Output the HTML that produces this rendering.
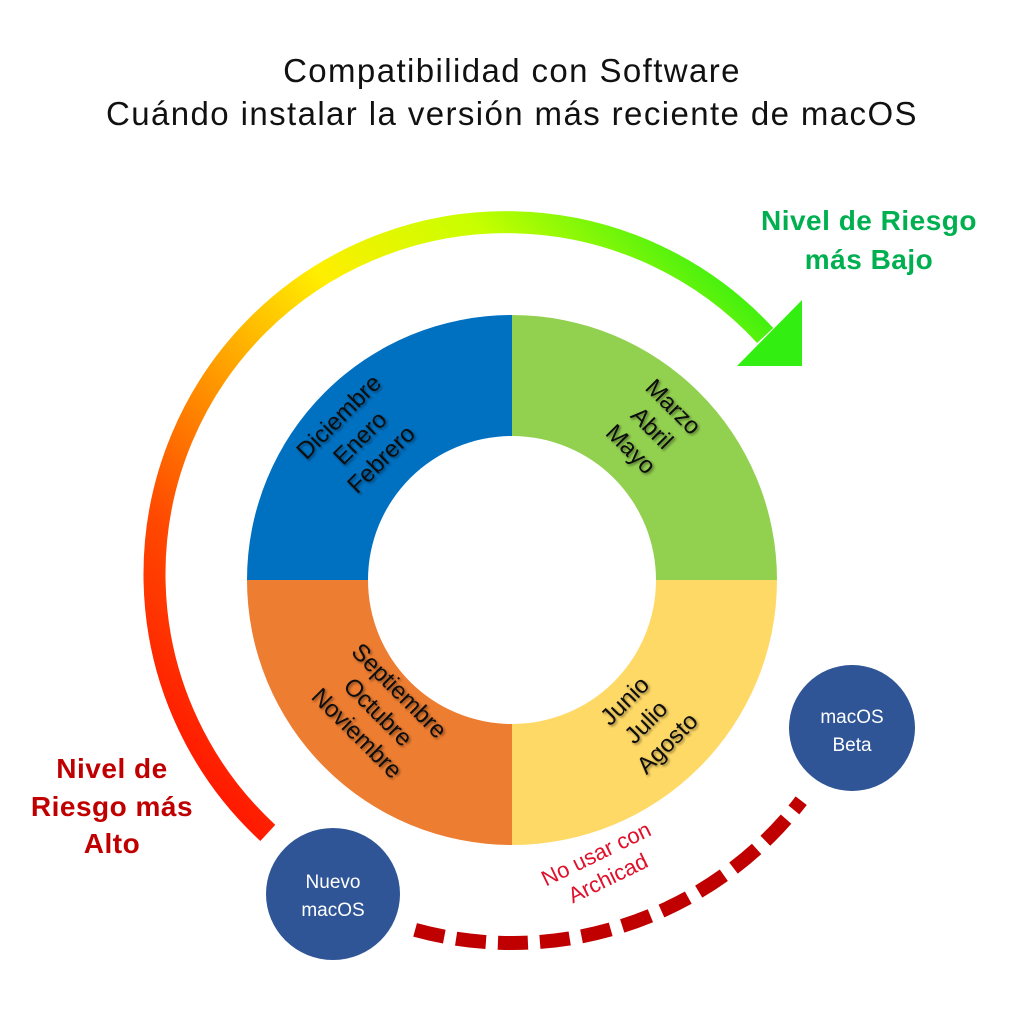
<!DOCTYPE html>
<html><head><meta charset="utf-8"><style>
html,body{margin:0;padding:0;background:#fff;}
svg{display:block;}
text{font-family:"Liberation Sans",sans-serif;}
</style></head><body>
<svg width="1024" height="1024" viewBox="0 0 1024 1024" xmlns="http://www.w3.org/2000/svg">
<defs>
<linearGradient id="g" gradientUnits="userSpaceOnUse" x1="260" y1="840" x2="800" y2="330">
<stop offset="0" stop-color="#ff1a00"/>
<stop offset="0.2" stop-color="#ff4a00"/>
<stop offset="0.4" stop-color="#ffa000"/>
<stop offset="0.58" stop-color="#ffee00"/>
<stop offset="0.78" stop-color="#c8ff00"/>
<stop offset="1" stop-color="#33ee11"/>
</linearGradient>
<filter id="sh" x="-20%" y="-20%" width="140%" height="140%"><feDropShadow dx="1.5" dy="1.5" stdDeviation="1.2" flood-color="#000" flood-opacity="0.45"/></filter>
</defs>
<text x="512" y="82" text-anchor="middle" font-size="33" letter-spacing="1.4" fill="#111">Compatibilidad con Software</text>
<text x="512" y="125" text-anchor="middle" font-size="33" letter-spacing="1.4" fill="#111">Cuándo instalar la versión más reciente de macOS</text>

<path d="M267.8 832.9 A352 352 0 1 1 765.2 335.5" fill="none" stroke="url(#g)" stroke-width="22"/>
<polygon points="737,366 802,300 802,366" fill="#33ee11"/>

<path d="M512 580 L247 580 A265 265 0 0 1 512 315 Z" fill="#0070c0"/>
<path d="M512 580 L512 315 A265 265 0 0 1 777 580 Z" fill="#92d050"/>
<path d="M512 580 L777 580 A265 265 0 0 1 512 845 Z" fill="#ffd966"/>
<path d="M512 580 L512 845 A265 265 0 0 1 247 580 Z" fill="#ed7d31"/>
<circle cx="512" cy="580" r="144" fill="#fff"/>

<g font-size="24" fill="#111" text-anchor="middle" filter="url(#sh)">
<g transform="translate(360,438) rotate(-45)">
<text x="0" y="-22">Diciembre</text><text x="0" y="8">Enero</text><text x="0" y="38">Febrero</text></g>
<g transform="translate(652,428) rotate(45)">
<text x="0" y="-22">Marzo</text><text x="0" y="8">Abril</text><text x="0" y="38">Mayo</text></g>
<g transform="translate(378,712) rotate(45)">
<text x="0" y="-22">Septiembre</text><text x="0" y="8">Octubre</text><text x="0" y="38">Noviembre</text></g>
<g transform="translate(646,722) rotate(-45)">
<text x="0" y="-22">Junio</text><text x="0" y="8">Julio</text><text x="0" y="38">Agosto</text></g>
</g>

<g font-size="28" font-weight="bold" fill="#00b050" text-anchor="middle" letter-spacing="0.5">
<text x="869" y="230">Nivel de Riesgo</text><text x="869" y="269">más Bajo</text></g>
<g font-size="28" font-weight="bold" fill="#c00000" text-anchor="middle" letter-spacing="0.5">
<text x="112" y="778">Nivel de</text><text x="112" y="816">Riesgo más</text><text x="112" y="853">Alto</text></g>

<path d="M415.1 929.9 A365 365 0 0 0 801.2 800.7" fill="none" stroke="#c00000" stroke-width="14" stroke-dasharray="30 12"/>

<g transform="translate(602,866) rotate(-26)" font-size="22" fill="#e0102a" text-anchor="middle">
<text x="0" y="-6">No usar con</text><text x="0" y="21">Archicad</text></g>

<ellipse cx="333" cy="894" rx="67" ry="66" fill="#2f5597"/>
<text x="333" y="888" text-anchor="middle" font-size="19" fill="#fff">Nuevo</text>
<text x="333" y="916" text-anchor="middle" font-size="19" fill="#fff">macOS</text>
<circle cx="852" cy="728" r="63" fill="#2f5597"/>
<text x="852" y="723" text-anchor="middle" font-size="19" fill="#fff">macOS</text>
<text x="852" y="751" text-anchor="middle" font-size="19" fill="#fff">Beta</text>
</svg>
</body></html>
